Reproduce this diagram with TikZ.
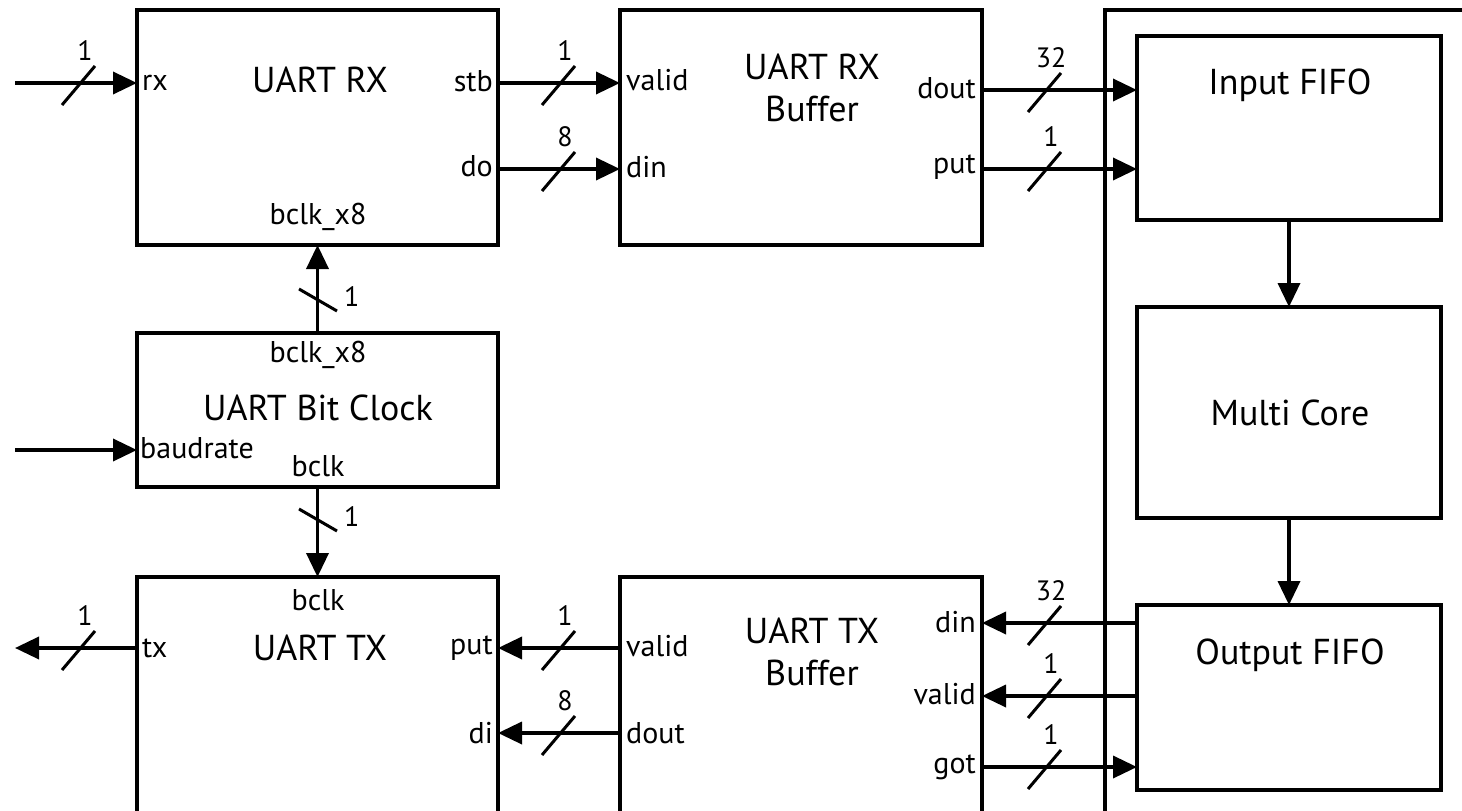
\documentclass[tikz,border=0pt]{standalone}
\usepackage{fontspec}
\setmainfont{PT Sans}
\usetikzlibrary{arrows.meta,calc}
\newcommand\busmarkh[3]{%
  \draw[slash] ($(#1)+(-17,22)$) -- ($(#1)+(16,-17)$);
  \node[bitw] (#2) at ($(#1)+(6,-32)$) {#3};}
\newcommand\busmarkv[3]{%
  \draw[slash] ($(#1)+(-19,-11)$) -- ($(#1)+(19,11)$);
  \node[bitw,anchor=west] (#2) at ($(#1)+(26,-3)$) {#3};}
\begin{document}
\begin{tikzpicture}[x=1pt,y=-1pt,
  blk/.style={draw, line width=4pt, anchor=north west, inner sep=0pt, outer sep=0pt},
  title/.style={font=\fontsize{36}{42}\selectfont, inner sep=0pt, align=center},
  port/.style={font=\fontsize{30}{34}\selectfont, inner sep=0pt},
  bitw/.style={font=\fontsize{28}{32}\selectfont, inner sep=0pt},
  sig/.style={line width=3.6pt, -{Triangle[length=24pt,width=22pt]}},
  slash/.style={line width=3pt},
]
\useasboundingbox[fill=white] (0,0) rectangle (1462,811);
\clip (0,0) rectangle (1462,811);

% blocks
\node[blk, minimum width=361pt, minimum height=235pt] (urx) at (137,10) {};
\node[blk, minimum width=362pt, minimum height=235pt] (rxb) at (620,10) {};
\node[blk, minimum width=361pt, minimum height=154pt] (bck) at (137,333) {};
\node[blk, minimum width=361pt, minimum height=236pt] (utx) at (137,577) {};
\node[blk, minimum width=362pt, minimum height=236pt] (txb) at (620,577) {};
\node[blk, minimum width=380pt, minimum height=830pt] (cont) at (1105,10) {};
\node[blk, minimum width=304pt, minimum height=184pt] (ififo) at (1137,36) {};
\node[blk, minimum width=304pt, minimum height=211pt] (mcore) at (1137,307) {};
\node[blk, minimum width=304pt, minimum height=185pt] (ofifo) at (1137,605) {};

% titles
\node[title] (turx) at (320,80) {UART RX};
\node[title] (trxb) at (812,88) {UART RX\\Buffer};
\node[title] (tbck) at (318,408) {UART Bit Clock};
\node[title] (tutx) at (320,648) {UART TX};
\node[title] (ttxb) at (812,652) {UART TX\\Buffer};
\node[title] (tif) at (1290,85) {Input FIFO};
\node[title] (tmc) at (1290,413) {Multi Core};
\node[title] (tof) at (1290,655) {Output FIFO};

% row coordinates
\coordinate (yA) at (0,83);
\coordinate (yB) at (0,169);
\coordinate (yC) at (0,90);
\coordinate (yE) at (0,648);
\coordinate (yF) at (0,733);
\coordinate (yG) at (0,623);
\coordinate (yH) at (0,696);
\coordinate (yI) at (0,767);
\coordinate (rxin) at (15,83);
\coordinate (baudin) at (15,450);
\coordinate (txout) at (15,648);

% port labels
\node[port, anchor=west] (prx) at (142,83) {rx};
\node[port, anchor=east] (pstb) at (493,81) {stb};
\node[port, anchor=east] (pdo) at (493,166) {do};
\node[port] (pbx8a) at (318,217) {bclk\_x8};
\node[port, anchor=west] (pval1) at (626,80) {valid};
\node[port, anchor=west] (pdin1) at (626,167) {din};
\node[port, anchor=east] (pdout1) at (976,88) {dout};
\node[port, anchor=east] (pput1) at (976,167) {put};
\node[port] (pbx8b) at (318,355) {bclk\_x8};
\node[port, anchor=west] (pbaud) at (140,448) {baudrate};
\node[port] (pbclk1) at (318,466) {bclk};
\node[port] (pbclk2) at (318,600) {bclk};
\node[port, anchor=west] (ptx) at (142,648) {tx};
\node[port, anchor=east] (pput2) at (493,648) {put};
\node[port, anchor=east] (pdi) at (493,733) {di};
\node[port, anchor=west] (pval2) at (626,646) {valid};
\node[port, anchor=west] (pdout2) at (626,733) {dout};
\node[port, anchor=east] (pdin2) at (976,622) {din};
\node[port, anchor=east] (pval3) at (976,694) {valid};
\node[port, anchor=east] (pgot) at (976,767) {got};

% connectors
\draw[sig] (rxin) -- (urx.west |- rxin);
\draw[sig] (urx.east |- yA) -- (rxb.west |- yA);
\draw[sig] (urx.east |- yB) -- (rxb.west |- yB);
\draw[sig] (rxb.east |- yC) -- (ififo.west |- yC);
\draw[sig] (rxb.east |- yB) -- (ififo.west |- yB);
\draw[sig] (bck.north) -- (urx.south);
\draw[sig] (baudin) -- (bck.west |- baudin);
\draw[sig] (bck.south) -- (utx.north);
\draw[sig] (utx.west |- txout) -- (txout);
\draw[sig] (txb.west |- yE) -- (utx.east |- yE);
\draw[sig] (txb.west |- yF) -- (utx.east |- yF);
\draw[sig] (ofifo.west |- yG) -- (txb.east |- yG);
\draw[sig] (ofifo.west |- yH) -- (txb.east |- yH);
\draw[sig] (txb.east |- yI) -- (ofifo.west |- yI);
\draw[sig] (ififo.south) -- (mcore.north);
\draw[sig] (mcore.south) -- (ofifo.north);

% bus width marks
\busmarkh{79,83}{w1}{1}
\busmarkh{559,83}{w2}{1}
\busmarkh{559,169}{w3}{8}
\busmarkh{1045,90}{w4}{32}
\busmarkh{1045,169}{w5}{1}
\busmarkv{318,300}{w6}{1}
\busmarkv{318,520}{w7}{1}
\busmarkh{79,648}{w8}{1}
\busmarkh{559,648}{w9}{1}
\busmarkh{559,733}{w10}{8}
\busmarkh{1045,623}{w11}{32}
\busmarkh{1045,696}{w12}{1}
\busmarkh{1045,767}{w13}{1}
\end{tikzpicture}
\end{document}
